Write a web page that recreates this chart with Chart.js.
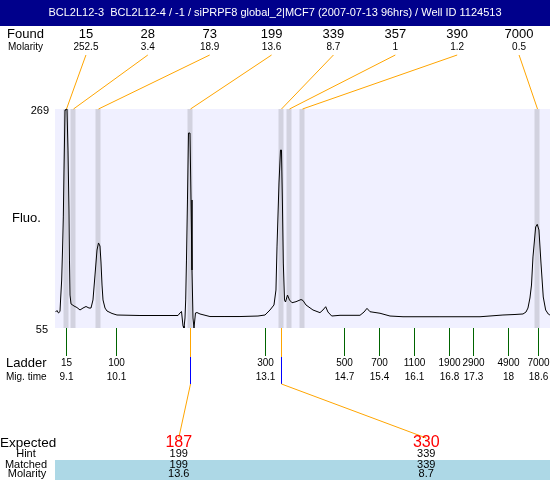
<!DOCTYPE html>
<html>
<head>
<meta charset="utf-8">
<script src="https://cdn.jsdelivr.net/npm/chart.js@4.4.1/dist/chart.umd.min.js"></script>
<style>
  body { margin: 0; background: #fff; }
  canvas { display: block; }
</style>
</head>
<body>
<canvas id="gel" width="550" height="480"></canvas>
<script>
'use strict';

var title = 'BCL2L12-3  BCL2L12-4 / -1 / siPRPF8 global_2|MCF7 (2007-07-13 96hrs) / Well ID 1124513';

// found peaks
var foundSize = [15, 28, 73, 199, 339, 357, 390, 7000];
var foundMolarity = ['252.5', '3.4', '18.9', '13.6', '8.7', '1', '1.2', '0.5'];
var foundTime = [9.11, 9.25, 9.75, 11.59, 13.42, 13.58, 13.84, 18.59];

// ladder
var ladderSize = [15, 100, 300, 500, 700, 1100, 1900, 2900, 4900, 7000];
var ladderTime = [9.1, 10.1, 13.1, 14.7, 15.4, 16.1, 16.8, 17.3, 18, 18.6];

// expected
var expectedSize = [187, 330];
var expectedHint = [199, 339];
var expectedMatched = [199, 339];
var expectedMolarity = ['13.6', '8.7'];
var expectedPeak = [3, 4]; // index into found peaks

var fluoTicks = [55, 269];

// electropherogram trace (migration time, fluorescence)
var traceTime = [8.889, 8.919, 8.949, 8.979, 8.993, 9.013, 9.030, 9.046, 9.060, 9.080,
  9.100, 9.120, 9.140, 9.160, 9.170, 9.181, 9.201, 9.261, 9.321, 9.382,
  9.442, 9.503, 9.563, 9.603, 9.643, 9.684, 9.724, 9.754, 9.784, 9.804,
  9.825, 9.845, 9.885, 9.925, 10.026, 10.126, 10.589, 10.992, 11.354, 11.394,
  11.425, 11.455, 11.475, 11.495, 11.509, 11.525, 11.545, 11.565, 11.596, 11.616,
  11.636, 11.656, 11.676, 11.706, 11.737, 11.797, 11.998, 12.300, 12.602, 12.964,
  13.105, 13.206, 13.286, 13.326, 13.347, 13.387, 13.417, 13.437, 13.457, 13.474,
  13.498, 13.518, 13.558, 13.598, 13.649, 13.729, 13.830, 13.870, 13.930, 14.071,
  14.212, 14.272, 14.327, 14.373, 14.448, 14.615, 15.017, 15.098, 15.158, 15.219,
  15.420, 15.621, 15.883, 16.627, 17.433, 17.895, 18.137, 18.298, 18.358, 18.398,
  18.438, 18.469, 18.499, 18.553, 18.585, 18.619, 18.660, 18.706, 18.754, 18.806, 18.840];
var traceFluo = [70.6, 72.1, 69.7, 71.1, 84.3, 101.9, 131.2, 163.5, 209.4, 268.0,
  269, 269, 228.9, 170.3, 121.4, 87.2, 78.5, 76.5, 75.0, 72.6,
  74.5, 76.0, 74.5, 74.5, 82.4, 106.8, 131.2, 138.1, 135.1, 119.5,
  97.0, 82.4, 74.5, 71.6, 69.2, 67.7, 67.2, 67.2, 67.2, 69.7,
  71.1, 57.0, 55, 64.8, 82.4, 121.4, 180.1, 245.5, 245.5, 180.1,
  111.7, 64.8, 55, 69.7, 70.1, 68.7, 66.2, 66.2, 66.2, 66.7,
  67.7, 72.6, 77.5, 92.1, 134.2, 196.7, 228.9, 228.9, 174.2, 118.5,
  82.4, 80.4, 87.2, 82.4, 79.7, 80.7, 82.8, 81.9, 77.5, 72.6,
  70.0, 72.6, 75.8, 70.6, 66.7, 67.4, 67.4, 70.6, 74.2, 70.9,
  69.4, 66.7, 66.0, 66.0, 66.0, 67.7, 68.2, 68.7, 70.6, 74.5,
  84.3, 97.0, 124.4, 153.7, 156.3, 150.8, 118.5, 85.3, 72.6, 68.7, 67.7];

var FONT = '"Liberation Sans", Arial, sans-serif';
var ORANGE = '#ffa500';

var points = [];
for (var i = 0; i < traceTime.length; i++) {
    points.push({x: traceTime[i], y: traceFluo[i]});
}

function txt(ctx, s, x, y, size, align, color) {
    ctx.font = size + 'px ' + FONT;
    ctx.textAlign = align || 'center';
    ctx.textBaseline = 'middle';
    ctx.fillStyle = color || '#000';
    ctx.fillText(s, x, y);
}

function seg(ctx, x1, y1, x2, y2, color) {
    ctx.strokeStyle = color;
    ctx.lineWidth = 1;
    ctx.beginPath();
    ctx.moveTo(x1, y1);
    ctx.lineTo(x2, y2);
    ctx.stroke();
}

var gelPlugin = {
    id: 'gel',
    beforeDatasetsDraw: function(chart) {
        var ctx = chart.ctx, a = chart.chartArea, xs = chart.scales.x;
        ctx.save();
        ctx.fillStyle = '#f0f0ff';
        ctx.fillRect(a.left, a.top, a.right - a.left, a.bottom - a.top);
        ctx.fillStyle = '#d2d2df';
        foundTime.forEach(function(t) {
            var x = xs.getPixelForValue(t);
            ctx.fillRect(Math.round(x) - 2.5, a.top, 5, a.bottom - a.top);
        });
        ctx.restore();
    },
    afterDraw: function(chart) {
        var ctx = chart.ctx, a = chart.chartArea, xs = chart.scales.x, ys = chart.scales.y;
        var w = a.right - a.left;
        ctx.save();

        // title bar
        ctx.fillStyle = '#00008b';
        ctx.fillRect(0, 0, chart.width, 26);
        txt(ctx, title, chart.width / 2, 13, 11, 'center', '#fff');

        // found row
        txt(ctx, 'Found', 7, 34, 13, 'left');
        txt(ctx, 'Molarity', 8, 47, 10, 'left');
        var slot = w / foundSize.length;
        foundSize.forEach(function(s, i) {
            var cx = a.left + slot * (i + 0.5);
            txt(ctx, String(s), cx, 34, 13);
            txt(ctx, foundMolarity[i], cx, 47, 10);
            seg(ctx, cx, 55, Math.round(xs.getPixelForValue(foundTime[i])) + 0.5, a.top, ORANGE);
        });

        // y labels
        txt(ctx, String(fluoTicks[1]), 49, ys.getPixelForValue(fluoTicks[1]) + 2, 11, 'right');
        txt(ctx, String(fluoTicks[0]), 48, ys.getPixelForValue(fluoTicks[0]) + 2, 11, 'right');
        txt(ctx, 'Fluo.', 12, (a.top + a.bottom) / 2, 13, 'left');

        // ladder
        txt(ctx, 'Ladder', 6, 363, 13, 'left');
        txt(ctx, 'Mig. time', 6, 377, 10, 'left');
        ladderSize.forEach(function(s, i) {
            var x = Math.round(xs.getPixelForValue(ladderTime[i])) + 0.5;
            seg(ctx, x, a.bottom, x, 356, '#006400');
            txt(ctx, String(s), x, 363, 10);
            txt(ctx, String(ladderTime[i]), x, 377, 10);
        });

        // expected
        ctx.fillStyle = '#add8e6';
        ctx.fillRect(a.left, 460, w, 20);
        var eslot = w / expectedSize.length;
        expectedSize.forEach(function(s, i) {
            var cx = a.left + eslot * (i + 0.5);
            var px = Math.round(xs.getPixelForValue(foundTime[expectedPeak[i]])) + 0.5;
            seg(ctx, px, a.bottom, px, 357, ORANGE);
            seg(ctx, px, 357, px, 384, '#0000ff');
            seg(ctx, px, 384, cx, 438, ORANGE);
            txt(ctx, String(s), cx, 443, 16, 'center', '#ff0000');
            txt(ctx, String(expectedHint[i]), cx, 454, 11);
            txt(ctx, String(expectedMatched[i]), cx, 465, 11);
            txt(ctx, expectedMolarity[i], cx, 474, 11);
        });
        txt(ctx, 'Expected', 0, 443, 13.5, 'left');
        txt(ctx, 'Hint', 26, 454, 11);
        txt(ctx, 'Matched', 26, 465, 11);
        txt(ctx, 'Molarity', 27, 474, 11);

        ctx.restore();
    }
};

new Chart(document.getElementById('gel'), {
    type: 'scatter',
    data: {
        datasets: [{
            data: points,
            showLine: true,
            borderColor: '#000',
            borderWidth: 1,
            pointRadius: 0,
            tension: 0,
            clip: false
        }]
    },
    options: {
        responsive: false,
        animation: false,
        layout: { padding: { left: 55, right: 0, top: 109, bottom: 152 } },
        scales: {
            x: { type: 'linear', min: 8.8786, max: 18.8416, display: false },
            y: { min: fluoTicks[0], max: fluoTicks[1], display: false }
        },
        plugins: { legend: { display: false }, tooltip: { enabled: false } }
    },
    plugins: [gelPlugin]
});
</script>
</body>
</html>
